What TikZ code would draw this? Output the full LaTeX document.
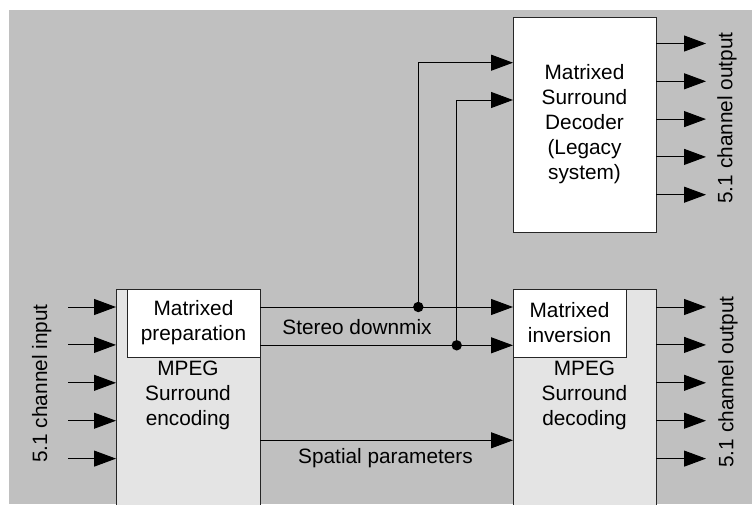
\documentclass[tikz,border=0pt]{standalone}
\usepackage{fontspec}
\setmainfont{Liberation Sans}
\usetikzlibrary{arrows.meta}
\usetikzlibrary{positioning}
\usepackage{xcolor}
\definecolor{bggray}{HTML}{C0C0C0}
\definecolor{boxgray}{HTML}{E4E4E4}
\newcommand{\figfont}{\fontsize{15.6}{18.75}\selectfont}
\tikzset{
  blk/.style={draw=black!85, line width=0.75pt, inner sep=0pt, outer sep=0pt, anchor=north west, align=center},
  sig/.style={-{Triangle[length=16.5pt,width=12pt]}, line width=0.75pt, black},
}

\begin{document}
\begin{tikzpicture}[x=0.75pt,y=-0.75pt,font=\figfont]
\useasboundingbox (0,0) rectangle (752,504);
\clip (0,0) rectangle (752,504);
\fill[bggray] (9,10) rectangle (752,504);
% boxes
\node[blk, fill=white, minimum width=107.25pt, minimum height=161.25pt] (legacy) at (513,17) {Matrixed\\Surround\\Decoder\\(Legacy\\system)};
\node[blk, fill=boxgray, minimum width=108pt, minimum height=172.5pt] (enc) at (116,289) {};
\node[blk, fill=white, minimum width=99.75pt, minimum height=51pt] (prep) at (127,289) {Matrixed\\preparation};
\node[blk, fill=boxgray, minimum width=107.25pt, minimum height=172.5pt] (dec) at (513,289) {};
\node[blk, fill=white, minimum width=84.75pt, minimum height=51pt] (inv) at (513,289) {Matrixed\\inversion};
\node[align=center] (enctxt) at (188,395.5) {MPEG\\Surround\\encoding};
\node[align=center] (dectxt) at (584.5,395.5) {MPEG\\Surround\\decoding};
% inputs and outputs
\foreach \i in {0,...,4} {
  \coordinate (in\i) at (68,307+37.9*\i);
  \draw[sig] (in\i) -- (in\i -| enc.west);
  \coordinate (out\i) at (706,307+37.9*\i);
  \draw[sig] (out\i -| dec.east) -- (out\i);
  \coordinate (top\i) at (706,43.5+37.8*\i);
  \draw[sig] (top\i -| legacy.east) -- (top\i);
}
\node[rotate=90] (inlbl) at (41.7,383.5) {5.1 channel input};
\node[rotate=90] (outlbl) at (728,382) {5.1 channel output};
\node[rotate=90] (toplbl) at (727,118) {5.1 channel output};
% stereo downmix
\coordinate (j1) at (418.3,307);
\coordinate (j2) at (456.7,345.3);
\draw[sig] (prep.east |- j1) -- (dec.west |- j1);
\draw[sig] (prep.east |- j2) -- (dec.west |- j2);
\draw[sig] (j1) |- (legacy.west |- 0,62.7);
\draw[sig] (j2) |- (legacy.west |- 0,100);
\fill (j1) circle (5.2);
\fill (j2) circle (5.2);
\node (stereo) at (357,327) {Stereo downmix};
% spatial parameters
\coordinate (sp) at (0,440.3);
\draw[sig] (enc.east |- sp) -- (dec.west |- sp);
\node (spatial) at (385.5,458) {Spatial parameters};
\end{tikzpicture}
\end{document}
